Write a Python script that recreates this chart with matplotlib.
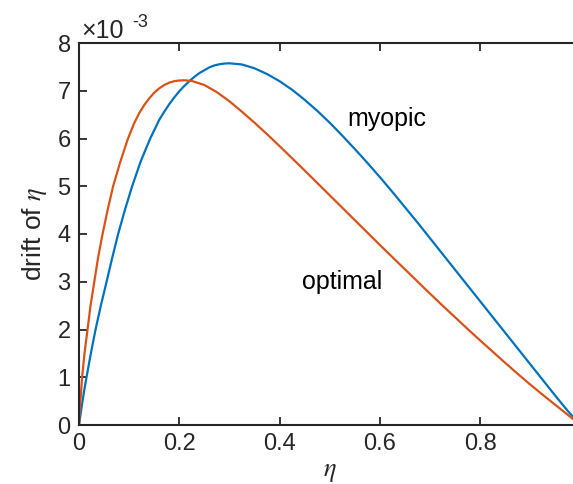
import matplotlib
matplotlib.use("Agg")
import matplotlib.pyplot as plt

# values, drift in units of 1e-3
eta_myopic = [0, 0.005, 0.01, 0.015, 0.024, 0.033, 0.044, 0.055, 0.066, 0.078,
              0.092, 0.106, 0.123, 0.142, 0.16, 0.17, 0.18, 0.19, 0.20, 0.21,
              0.22, 0.23, 0.24, 0.25, 0.26, 0.27, 0.28, 0.29, 0.30, 0.325,
              0.35, 0.375, 0.40, 0.425, 0.45, 0.475, 0.50, 0.525, 0.55, 0.575,
              0.60, 0.625, 0.65, 0.675, 0.70, 0.725, 0.75, 0.775, 0.80, 0.825,
              0.85, 0.875, 0.90, 0.925, 0.95, 0.975, 1.0]
drift_myopic = [0, 0.36, 0.70, 1.0, 1.52, 2.0, 2.52, 3.0, 3.49, 4.0,
                4.52, 5.0, 5.52, 6.0, 6.39, 6.56, 6.72, 6.86, 6.99, 7.10,
                7.20, 7.29, 7.37, 7.43, 7.49, 7.53, 7.555, 7.57, 7.575, 7.55,
                7.47, 7.35, 7.20, 7.02, 6.81, 6.58, 6.33, 6.06, 5.78, 5.49,
                5.19, 4.88, 4.56, 4.24, 3.91, 3.58, 3.25, 2.92, 2.59, 2.26,
                1.93, 1.60, 1.27, 0.94, 0.61, 0.29, 0.0]

eta_optimal = [0, 0.002, 0.0062, 0.011, 0.017, 0.023, 0.0305, 0.038, 0.047, 0.057,
               0.068, 0.082, 0.097, 0.11, 0.12, 0.13, 0.14, 0.15, 0.16, 0.17,
               0.18, 0.19, 0.20, 0.21, 0.225, 0.25, 0.275, 0.30, 0.325, 0.35,
               0.375, 0.40, 0.425, 0.45, 0.475, 0.50, 0.525, 0.55, 0.575, 0.60,
               0.625, 0.65, 0.675, 0.70, 0.725, 0.75, 0.775, 0.80, 0.825, 0.85,
               0.875, 0.90, 0.925, 0.95, 0.975, 1.0]
drift_optimal = [0, 0.38, 1.0, 1.5, 2.0, 2.5, 3.0, 3.5, 4.0, 4.5,
                 5.0, 5.5, 5.98, 6.32, 6.53, 6.70, 6.84, 6.96, 7.05, 7.12,
                 7.17, 7.20, 7.215, 7.22, 7.205, 7.12, 6.97, 6.78, 6.56, 6.33,
                 6.09, 5.84, 5.585, 5.33, 5.07, 4.81, 4.55, 4.29, 4.03, 3.77,
                 3.515, 3.26, 3.005, 2.75, 2.50, 2.255, 2.01, 1.77, 1.535, 1.30,
                 1.07, 0.845, 0.63, 0.42, 0.21, 0.0]

xticks = [0, 0.2, 0.4, 0.6, 0.8]
xticklabels = ["0", "0.2", "0.4", "0.6", "0.8"]
yticks = [0, 1, 2, 3, 4, 5, 6, 7, 8]

plt.rcParams['font.family'] = ['Liberation Sans', 'DejaVu Sans']
plt.rcParams['mathtext.fontset'] = 'stix'

W, H = 573, 484
fig = plt.figure(figsize=(W / 100, H / 100), dpi=100)
# axes run past the right edge, like the cropped original
ax = fig.add_axes([79 / W, 1 - 425 / H, 501.5 / W, 382 / H])

dark = '#262626'
ax.plot(eta_myopic, drift_myopic, color='#0072BD', lw=1.6)
ax.plot(eta_optimal, drift_optimal, color='#D95319', lw=1.6)

ax.set_xlim(0, 1)
ax.set_ylim(0, 8)
ax.set_xticks(xticks)
ax.set_xticklabels(xticklabels)
ax.set_yticks(yticks)
ax.tick_params(direction='in', length=6, width=1.3, colors=dark,
               labelsize=17, top=True, right=True, pad=6)
for s in ax.spines.values():
    s.set_linewidth(1.5)
    s.set_color(dark)

ax.set_xlabel(r'$\eta$', fontsize=19, color=dark, labelpad=3)
ax.set_ylabel(r'drift of $\eta$', fontsize=19, color=dark, labelpad=6)

ax.text(0.535, 6.4, 'myopic', fontsize=18, color='black', va='center')
ax.text(0.445, 3.0, 'optimal', fontsize=18, color='black', va='center')

# exponent label, drawn the way MATLAB does it
fig.text(81 / W, 1 - 38 / H, '×10', fontsize=18, color=dark, va='baseline')
fig.text(132 / W, 1 - 27 / H, '-3', fontsize=13, color=dark, va='baseline')

fig.savefig("out.png", dpi=100)
